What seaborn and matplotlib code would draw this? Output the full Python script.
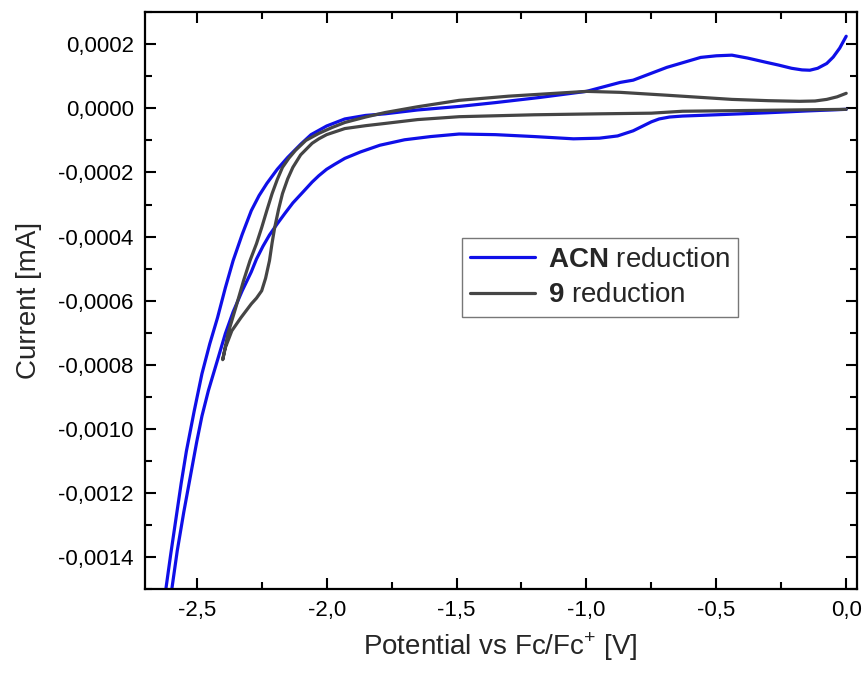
import matplotlib
matplotlib.use("Agg")
import matplotlib.pyplot as plt
from matplotlib.ticker import MultipleLocator, FuncFormatter
import seaborn as sns
import pandas as pd

# ---- data (current in units of 1e-4 mA) ----
acn_forward_x = [0.0, -0.15, -0.31, -0.50, -0.63, -0.68, -0.72, -0.75, -0.78, -0.82,
                 -0.88, -0.95, -1.05, -1.20, -1.35, -1.49, -1.60, -1.70, -1.795, -1.87,
                 -1.93, -1.97, -2.0, -2.03, -2.056, -2.09, -2.13, -2.16, -2.19, -2.22,
                 -2.245, -2.27, -2.29, -2.325, -2.36, -2.39, -2.42, -2.455, -2.48, -2.50,
                 -2.525, -2.55, -2.575, -2.596, -2.62]
acn_forward_y = [-0.03, -0.08, -0.14, -0.20, -0.24, -0.27, -0.33, -0.42, -0.54, -0.70,
                 -0.86, -0.93, -0.95, -0.88, -0.82, -0.80, -0.88, -0.98, -1.15, -1.36,
                 -1.56, -1.75, -1.90, -2.10, -2.30, -2.60, -2.95, -3.27, -3.60, -3.95,
                 -4.30, -4.70, -5.10, -5.69, -6.35, -7.03, -7.85, -8.80, -9.60, -10.4,
                 -11.5, -12.6, -13.8, -15.0, -16.2]
acn_return_x = [-2.645, -2.62, -2.60, -2.58, -2.56, -2.54, -2.51, -2.48, -2.45, -2.42,
                -2.39, -2.36, -2.325, -2.29, -2.26, -2.23, -2.19, -2.15, -2.10, -2.06,
                -2.0, -1.93, -1.85, -1.775, -1.65, -1.49, -1.35, -1.18, -1.0, -0.87,
                -0.82, -0.69, -0.56, -0.50, -0.44, -0.38, -0.31, -0.26, -0.21, -0.17,
                -0.14, -0.11, -0.075, -0.05, -0.025, 0.0]
acn_return_y = [-16.2, -15.06, -13.9, -12.8, -11.7, -10.7, -9.45, -8.28, -7.35, -6.53,
                -5.60, -4.75, -3.93, -3.19, -2.72, -2.34, -1.90, -1.53, -1.12, -0.82,
                -0.55, -0.33, -0.22, -0.17, -0.05, 0.06, 0.18, 0.34, 0.53, 0.81,
                0.88, 1.28, 1.59, 1.64, 1.66, 1.57, 1.44, 1.35, 1.25, 1.20,
                1.19, 1.25, 1.40, 1.60, 1.88, 2.25]

c9_forward_x = [0.0, -0.31, -0.63, -0.75, -0.95, -1.20, -1.49, -1.65, -1.775, -1.85,
                -1.93, -2.0, -2.03, -2.056, -2.10, -2.13, -2.15, -2.17, -2.185, -2.20,
                -2.21, -2.22, -2.235, -2.25, -2.27, -2.29, -2.33, -2.365, -2.39, -2.40]
c9_forward_y = [-0.03, -0.06, -0.09, -0.15, -0.17, -0.20, -0.26, -0.35, -0.47, -0.54,
                -0.63, -0.82, -0.95, -1.09, -1.45, -1.84, -2.20, -2.66, -3.15, -3.72,
                -4.20, -4.75, -5.30, -5.69, -5.92, -6.10, -6.53, -6.94, -7.47, -7.84]
c9_return_x = [-2.38, -2.35, -2.32, -2.295, -2.27, -2.25, -2.23, -2.21, -2.19, -2.17,
               -2.145, -2.12, -2.08, -2.03, -1.98, -1.93, -1.85, -1.775, -1.65, -1.49,
               -1.30, -1.18, -1.0, -0.87, -0.69, -0.44, -0.30, -0.18, -0.12, -0.075,
               -0.035, 0.0]
c9_return_y = [-7.03, -6.22, -5.38, -4.75, -4.22, -3.72, -3.18, -2.66, -2.22, -1.84,
               -1.55, -1.31, -1.00, -0.78, -0.60, -0.44, -0.27, -0.13, 0.05, 0.25,
               0.38, 0.44, 0.53, 0.50, 0.41, 0.28, 0.24, 0.22, 0.23, 0.28,
               0.36, 0.47]

x_ticks = [-2.5, -2.0, -1.5, -1.0, -0.5, 0.0]
y_ticks = [0.0002, 0.0, -0.0002, -0.0004, -0.0006, -0.0008, -0.0010, -0.0012, -0.0014]

scale = 1e-4
acn = pd.DataFrame({"E": acn_forward_x + acn_return_x,
                    "I": [v * scale for v in acn_forward_y + acn_return_y]})
c9 = pd.DataFrame({"E": c9_forward_x + c9_return_x,
                   "I": [v * scale for v in c9_forward_y + c9_return_y]})

sns.set_theme(style="white")
plt.rcParams["font.family"] = ["Liberation Sans", "DejaVu Sans"]
plt.rcParams["mathtext.fontset"] = "custom"
plt.rcParams["mathtext.rm"] = "Liberation Sans"
plt.rcParams["mathtext.bf"] = "Liberation Sans:bold"

fig = plt.figure(figsize=(8.67, 6.78), dpi=100)
ax = fig.add_axes([0.167, 0.131, 0.821, 0.851])

sns.lineplot(data=acn, x="E", y="I", sort=False, estimator=None, ax=ax,
             color="#0f0fe8", lw=2.3, label=r"$\bf{ACN}$ reduction")
sns.lineplot(data=c9, x="E", y="I", sort=False, estimator=None, ax=ax,
             color="#454545", lw=2.3, label=r"$\bf{9}$ reduction")

ax.set_xlim(-2.70, 0.04)
ax.set_ylim(-0.0015, 0.0003)
ax.set_xticks(x_ticks)
ax.set_yticks(y_ticks)
ax.xaxis.set_minor_locator(MultipleLocator(0.25))
ax.yaxis.set_minor_locator(MultipleLocator(0.0001))
ax.xaxis.set_major_formatter(FuncFormatter(lambda v, p: f"{v:.1f}".replace(".", ",").replace("-0,0", "0,0")))
ax.yaxis.set_major_formatter(FuncFormatter(lambda v, p: ("0,0000" if abs(v) < 1e-12 else f"{v:.4f}".replace(".", ","))))

ax.tick_params(which="both", direction="in", top=True, right=True, bottom=True, left=True,
               colors="black", labelsize=16)
ax.tick_params(which="major", length=8, width=1.5, pad=8)
ax.tick_params(which="minor", length=5, width=1.5)
for s in ax.spines.values():
    s.set_color("black")
    s.set_linewidth(1.6)

ax.set_xlabel(r"Potential vs Fc/Fc$^{+}$ [V]", fontsize=20, labelpad=7)
ax.set_ylabel("Current [mA]", fontsize=20, labelpad=11.5)

leg = ax.legend(loc="upper left", bbox_to_anchor=(0.445, 0.608), fontsize=20,
                frameon=True, fancybox=False, handlelength=2.35, handletextpad=0.45,
                borderpad=0.3, labelspacing=0.35, borderaxespad=0)
leg.get_frame().set_edgecolor("#555555")
leg.get_frame().set_linewidth(1.0)

fig.savefig("out.png", dpi=100)
